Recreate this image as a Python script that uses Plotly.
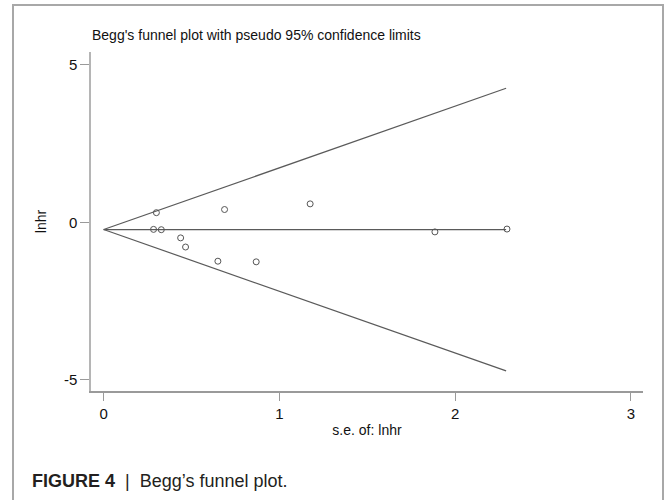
import plotly.graph_objects as go

# Study data (standard error vs. log hazard ratio)
se_values = [0.284, 0.300, 0.328, 0.438, 0.466, 0.650, 0.688, 0.868, 1.175, 1.885, 2.295]
lnhr_values = [-0.22, 0.31, -0.23, -0.49, -0.78, -1.23, 0.41, -1.25, 0.59, -0.30, -0.21]

# Pseudo 95% confidence limit lines
funnel_se = [0, 2.29]
pooled = [-0.225, -0.225]
upper_limit = [-0.225, 4.26]
lower_limit = [-0.225, -4.71]

x_ticks = [0, 1, 2, 3]
x_tick_labels = ["0", "1", "2", "3"]
y_ticks = [-5, 0, 5]
y_tick_labels = ["-5", "0", "5"]

W, H = 665, 500
L, R, T, B = 91, 22, 52, 109
pw, ph = W - L - R, H - T - B


def px(xp):
    return (xp - L) / pw


def py(yp):
    return (H - B - yp) / ph


line_col = "#5a5a5a"
axis_col = "#9a9a9a"
font = "Liberation Sans, Arial, sans-serif"

fig = go.Figure()
for yy in (upper_limit, pooled, lower_limit):
    fig.add_trace(go.Scatter(x=funnel_se, y=yy, mode="lines",
                             line=dict(color=line_col, width=1.2),
                             showlegend=False, hoverinfo="skip"))
fig.add_trace(go.Scatter(x=se_values, y=lnhr_values, mode="markers",
                         marker=dict(symbol="circle-open", size=6,
                                     color="#555555", line=dict(width=1)),
                         showlegend=False))

fig.update_layout(
    width=W, height=H,
    margin=dict(l=L, r=R, t=T, b=B),
    paper_bgcolor="white", plot_bgcolor="white",
    font=dict(family=font, size=15, color="#111111"),
    xaxis=dict(range=[-0.072, 3.069], tickvals=x_ticks, ticktext=x_tick_labels,
               showgrid=False, zeroline=False, showline=True, linecolor=axis_col,
               linewidth=1.5, ticks="outside", ticklen=8, tickcolor=axis_col,
               tickwidth=1.2, tickfont=dict(size=15, color="#111111"),
               title=dict(text="s.e. of: lnhr", font=dict(size=14), standoff=4)),
    yaxis=dict(range=[-5.35, 5.41], tickvals=y_ticks, ticktext=y_tick_labels,
               showgrid=False, zeroline=False, showline=True, linecolor="#b5b5b5",
               linewidth=1.5, ticks="outside", ticklen=9, tickcolor=axis_col,
               tickwidth=1.2, tickfont=dict(size=15, color="#111111"),
               title=dict(text="lnhr", font=dict(size=14), standoff=14)),
    shapes=[dict(type="rect", xref="paper", yref="paper",
                 x0=px(13), x1=px(663), y0=py(520), y1=py(5),
                 line=dict(color="#a8a8a8", width=2), fillcolor="rgba(0,0,0,0)",
                 layer="below")],
    annotations=[
        dict(text="Begg's funnel plot with pseudo 95% confidence limits",
             xref="paper", yref="paper", x=px(90), y=py(35),
             xanchor="left", yanchor="middle", showarrow=False,
             font=dict(size=14, color="#111111")),
        dict(text="<b>FIGURE 4</b>  |  Begg\u2019s funnel plot.",
             xref="paper", yref="paper", x=px(30), y=py(481),
             xanchor="left", yanchor="middle", showarrow=False,
             font=dict(family=font, size=18, color="#231f20")),
    ],
)

fig.write_html("out.html")
